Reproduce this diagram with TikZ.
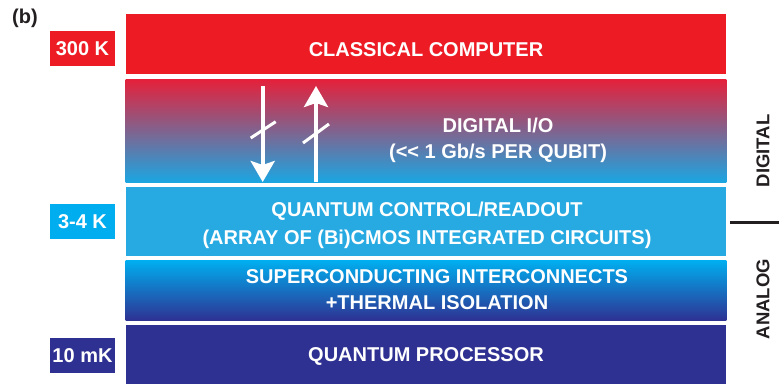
\documentclass[tikz,border=0pt]{standalone}
\usepackage{fontspec}
\setmainfont{Liberation Sans}
\usetikzlibrary{arrows.meta}
\definecolor{cred}{HTML}{ED1C24}
\definecolor{ccyan}{HTML}{27AAE1}
\definecolor{cbright}{HTML}{00AEEF}
\definecolor{cnavy}{HTML}{2E3192}
\definecolor{cgradtop}{HTML}{E6203A}
\definecolor{cgradbot}{HTML}{1BA6E2}
\definecolor{ctext}{HTML}{231F20}
\begin{document}
\begin{tikzpicture}[x=1pt,y=-1pt,
  layer/.style={draw=none, minimum width=600.6pt, inner sep=0pt, outer sep=0pt},
  layertext/.style={text=white, inner sep=0pt, anchor=base, font=\bfseries\fontsize{20}{24}\selectfont},
  templabel/.style={minimum width=65pt, minimum height=35pt, inner sep=0pt, text=white, font=\bfseries\fontsize{20}{24}\selectfont},
  sidelabel/.style={rotate=90, text=ctext, inner sep=0pt, font=\bfseries\fontsize{18.5}{22}\selectfont},
  ioarrow/.style={white, line width=4pt, -{Stealth[length=21pt,width=24pt,inset=4pt]}},
  slash/.style={white, line width=3pt}]
\useasboundingbox (0,0) rectangle (779,384);
% layers
\node[layer, fill=cred, minimum height=60pt] (cc) at (426,44) {};
\node[layer, top color=cgradtop, bottom color=cgradbot, minimum height=103pt] (dio) at (426,130.5) {};
\node[layer, fill=ccyan, minimum height=69.5pt] (qc) at (426,221.25) {};
\node[layer, top color=cbright, bottom color=cnavy, minimum height=60pt] (sc) at (426,290.5) {};
\node[layer, fill=cnavy, minimum height=59pt] (qp) at (426,354.5) {};
% layer texts
\node[layertext] (cct) at (426,56) {CLASSICAL COMPUTER};
\node[layertext] (diot1) at (498,132) {DIGITAL I/O};
\node[layertext] (diot2) at (498,158) {({<}{<} 1 Gb/s PER QUBIT)};
\node[layertext] (qct1) at (427,216) {QUANTUM CONTROL/READOUT};
\node[layertext] (qct2) at (427,244) {(ARRAY OF (Bi)CMOS INTEGRATED CIRCUITS)};
\node[layertext] (sct1) at (437,283) {SUPERCONDUCTING INTERCONNECTS};
\node[layertext] (sct2) at (437,309) {+THERMAL ISOLATION};
\node[layertext] (qpt) at (426,361) {QUANTUM PROCESSOR};
% temperature labels
\node[templabel, fill=cred] (t300) at (82.5,48.5) {300 K};
\node[templabel, fill=cbright] (t4) at (82.5,221.5) {3-4 K};
\node[templabel, fill=cnavy] (t10) at (82.5,355.5) {10 mK};
\node[anchor=base west, inner sep=0pt, text=ctext, font=\bfseries\fontsize{20}{24}\selectfont] (lab) at (12,23) {(b)};
% side labels
\node[sidelabel] (dig) at (763,151) {DIGITAL};
\node[sidelabel] (ana) at (763,299) {ANALOG};
\coordinate (sepL) at (730,222);
\coordinate (sepR) at (779,222);
\draw[ctext, line width=3pt] (sepL) -- (sepR);
% arrows
\coordinate (dA) at (262.7,86);
\coordinate (dB) at (262.7,182);
\coordinate (uA) at (316,182);
\coordinate (uB) at (316,86);
\draw[ioarrow] (dA) -- (dB);
\draw[ioarrow] (uA) -- (uB);
\coordinate (s1a) at (250.7,138);
\coordinate (s1b) at (275.7,121.7);
\coordinate (s2a) at (303,143);
\coordinate (s2b) at (329,124);
\draw[slash] (s1a) -- (s1b);
\draw[slash] (s2a) -- (s2b);
\end{tikzpicture}
\end{document}
